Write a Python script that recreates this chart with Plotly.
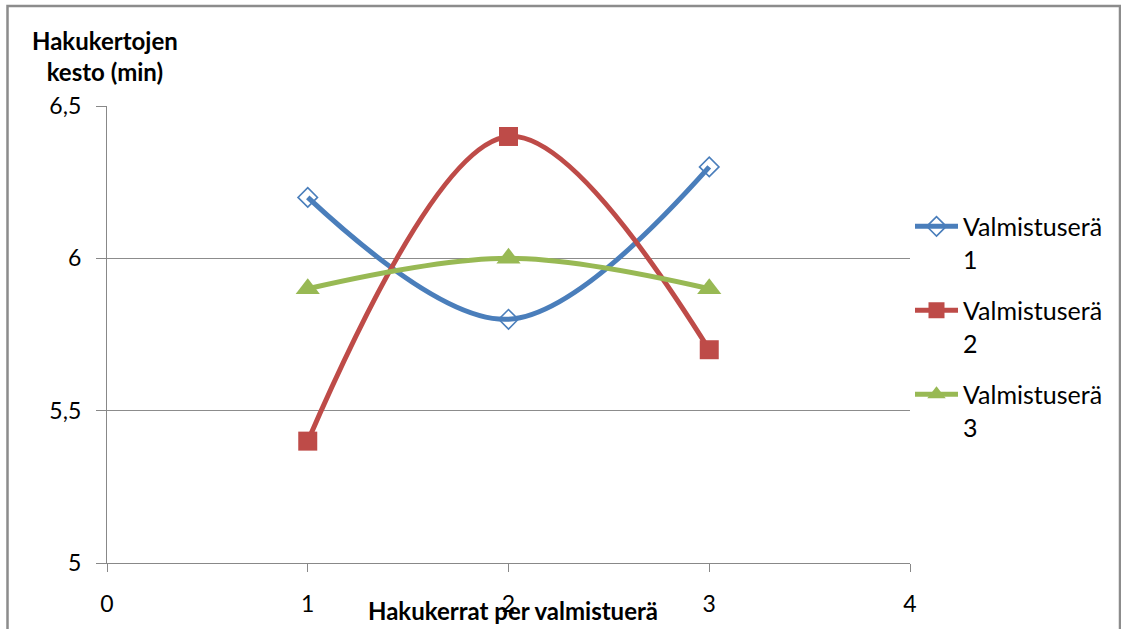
import plotly.graph_objects as go

x_vals = [1, 2, 3]
series_names = ["Valmistuserä<br>1", "Valmistuserä<br>2", "Valmistuserä<br>3"]
series1 = [6.2, 5.8, 6.3]
series2 = [5.4, 6.4, 5.7]
series3 = [5.9, 6.0, 5.9]
colors = ["#4A7EBB", "#BE4B48", "#98B954"]
symbols = ["diamond-open", "square", "triangle-up"]
sizes = [15, 19, 21]
x_ticks = [0, 1, 2, 3, 4]
y_ticks = [5, 5.5, 6, 6.5]
x_title = "Hakukerrat per valmistuerä"
y_title = "Hakukertojen<br>kesto (min)"

FONT = "Lato, 'Open Sans', sans-serif"

fig = go.Figure()
for i, (name, ys, c, s, sz) in enumerate(zip(series_names, [series1, series2, series3], colors, symbols, sizes)):
    fig.add_trace(go.Scatter(
        x=x_vals, y=ys, name=name, mode="lines+markers", legendgroup=f"g{i}",
        line=dict(color=c, width=5, shape="spline", smoothing=1.0),
        marker=dict(symbol=s, size=sz, color=c,
                    line=dict(color=c, width=1.6 if s == "diamond-open" else 0)),
    ))

L, R, T, B = 107, 211, 106, 64
W, H = 1121, 629
pw, ph = W - L - R, H - T - B

fig.update_layout(
    width=W, height=H,
    margin=dict(l=L, r=R, t=T, b=B),
    paper_bgcolor="white", plot_bgcolor="white",
    separators=", ",
    font=dict(family=FONT, size=23, color="#000000"),
    showlegend=True,
    legend=dict(x=(910 - L) / pw, y=(565 - 204) / ph, xanchor="left", yanchor="top",
                font=dict(size=25, family=FONT), tracegroupgap=16, valign="top",
                itemwidth=43, bgcolor="rgba(0,0,0,0)"),
    xaxis=dict(range=[0, 4], tickvals=x_ticks, showgrid=False, zeroline=False,
               showline=True, linecolor="#888888", linewidth=1.3,
               ticks="outside", ticklen=8, tickcolor="#888888",
               tickfont=dict(size=23, family=FONT), ticklabelstandoff=12),
    yaxis=dict(range=[5, 6.5], tickvals=y_ticks, showgrid=True, gridcolor="#8c8c8c",
               gridwidth=1.3, zeroline=False,
               showline=True, linecolor="#888888", linewidth=1.3,
               ticks="outside", ticklen=10, tickcolor="#888888",
               tickfont=dict(size=23, family=FONT), ticklabelstandoff=10),
    annotations=[
        dict(text="<b>" + y_title + "</b>", xref="paper", yref="paper",
             x=(105 - L) / pw, y=(565 - 56) / ph, xanchor="center", yanchor="middle",
             showarrow=False, align="center", font=dict(size=24, family=FONT)),
        dict(text="<b>" + x_title + "</b>", xref="paper", yref="paper",
             x=(513 - L) / pw, y=(565 - 613) / ph, xanchor="center", yanchor="middle",
             showarrow=False, font=dict(size=24, family=FONT)),
    ],
    shapes=[
        dict(type="rect", xref="paper", yref="paper",
             x0=(7.5 - L) / pw, x1=(1120 - L) / pw,
             y0=(565 - 700) / ph, y1=(565 - 5.5) / ph,
             line=dict(color="#8c8c8c", width=2.5), fillcolor="rgba(0,0,0,0)", layer="below"),
    ],
)

fig.write_html("out.html", config={"displayModeBar": False},
               post_script="document.body.style.margin='0';document.body.style.overflow='hidden';")
